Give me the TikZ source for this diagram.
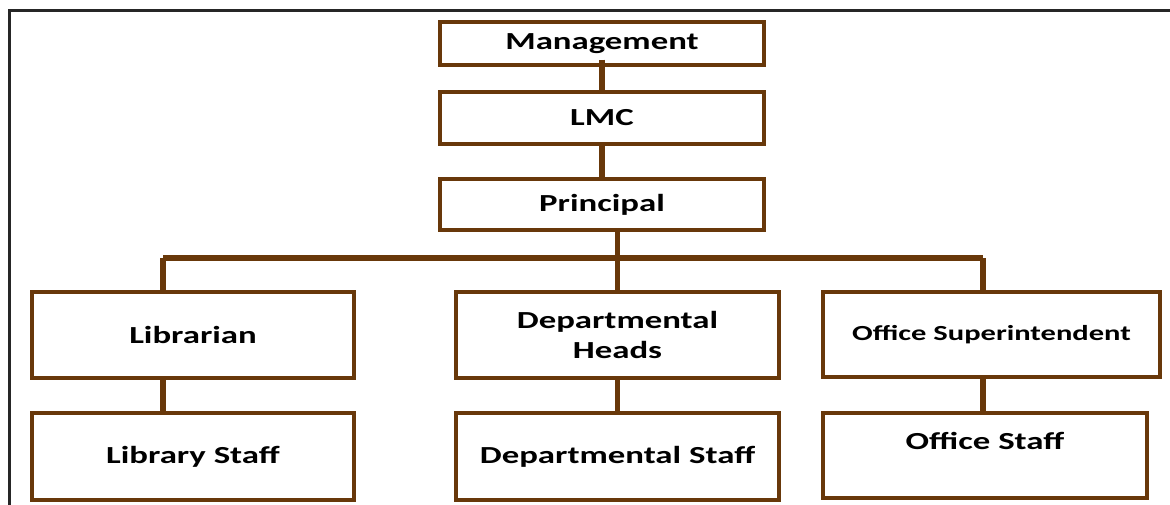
\documentclass[tikz,border=0pt]{standalone}
\usepackage{fontspec}
\newfontfamily\boxfont{Carlito}[FakeStretch=1.42]
\definecolor{chartbrown}{RGB}{104,56,10}

\begin{document}
\begin{tikzpicture}[x=1pt, y=-1pt,
    box/.style={draw=chartbrown, line width=3.3pt, inner sep=0pt, align=center,
        font=\boxfont\bfseries\fontsize{24.5}{30}\selectfont},
    link/.style={draw=chartbrown, line width=5.5pt}]

    % --- Canvas ---
    \useasboundingbox (0,0) rectangle (1170,504);
    \clip (0,0) rectangle (1170,504);

    % Outer frame (runs off the right and bottom edges)
    \draw[line width=2.2pt, black!85] (9.5,520) -- (9.5,10.5) -- (1190,10.5);

    % --- Boxes ---
    \node[box, minimum width=324pt, minimum height=43pt] (mgmt) at (602,43.5) {Management};
    \node[box, minimum width=324pt, minimum height=52pt] (lmc) at (602,118) {LMC};
    \node[box, minimum width=324pt, minimum height=51pt] (prin) at (602,204.5) {Principal};

    \node[box, minimum width=322pt, minimum height=86pt] (lib) at (193,335) {Librarian};
    \node[box, minimum width=322pt, minimum height=87pt] (libstaff) at (193,456.5) {Library Staff};

    \node[box, minimum width=323pt, minimum height=86pt] (heads) at (617.5,335) {Departmental\\Heads};
    \node[box, minimum width=323pt, minimum height=87pt] (depstaff) at (617.5,456.5) {Departmental Staff};

    \node[box, minimum width=337pt, minimum height=85pt,
        font=\boxfont\bfseries\fontsize{21.5}{26}\selectfont] (office) at (991.5,334.5) {Office Superintendent};
    \node[box, minimum width=324pt, minimum height=85pt, text depth=30pt] (offstaff) at (985,455.5) {Office Staff};

    % --- Branch points on the bus ---
    \coordinate (busL) at (163,258);
    \coordinate (busM) at (617.5,258);
    \coordinate (busR) at (983,258);

    % --- Connectors ---
    \draw[link] ([yshift=7pt]mgmt.south) -- (lmc.north);
    \draw[link] (lmc.south) -- (prin.north);
    \draw[link] (busM |- prin.south) -- (busM);

    % horizontal bus
    \draw[link] (busL) -- (busR);

    % drops to the three heads
    \draw[link] (busL) -- (busL |- lib.north);
    \draw[link] (busM) -- (heads.north);
    \draw[link] (busR) -- (busR |- office.north);

    % heads to their staff
    \draw[link] (busL |- lib.south) -- (busL |- libstaff.north);
    \draw[link] (heads.south) -- (depstaff.north);
    \draw[link] (busR |- office.south) -- (busR |- offstaff.north);

\end{tikzpicture}
\end{document}
